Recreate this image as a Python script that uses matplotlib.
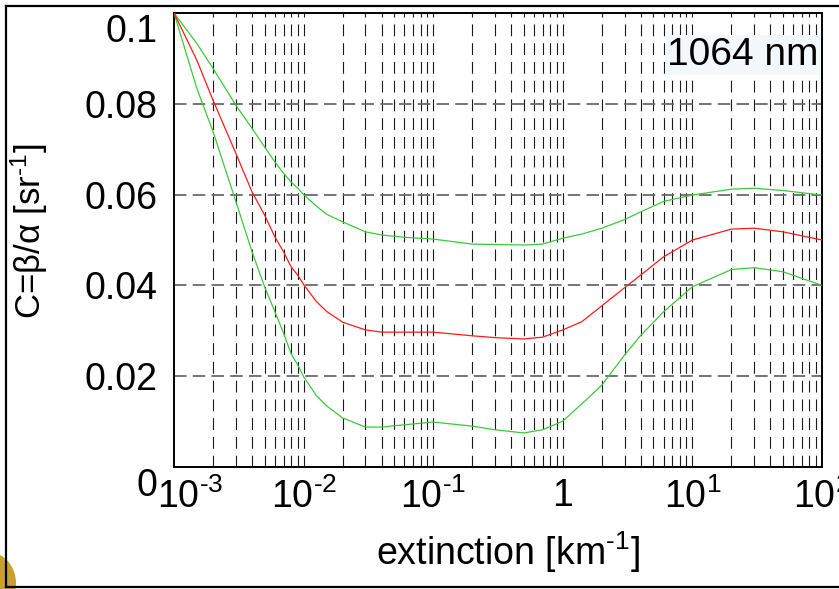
import numpy as np
import matplotlib
matplotlib.use("Agg")
import matplotlib.pyplot as plt
from matplotlib.ticker import FixedLocator, NullFormatter
from matplotlib.transforms import ScaledTranslation
from matplotlib.lines import Line2D
from matplotlib.patches import Ellipse

plt.rcParams['font.family'] = ['Liberation Sans', 'DejaVu Sans']
plt.rcParams['mathtext.fontset'] = 'custom'
plt.rcParams['mathtext.rm'] = 'Liberation Sans'
plt.rcParams['mathtext.it'] = 'Liberation Sans:italic'
plt.rcParams['mathtext.default'] = 'regular'
plt.rcParams['lines.scale_dashes'] = False

# extinction [km^-1] and backscatter/extinction ratio C
ext = [0.001, 0.0015, 0.002, 0.003, 0.004, 0.005, 0.006, 0.007, 0.008, 0.009, 0.01,
       0.0125, 0.015, 0.02, 0.03, 0.04, 0.06, 0.1, 0.2, 0.3, 0.5, 0.7, 1, 1.4, 2,
       3, 4, 6, 10, 20, 30, 50, 100]
c_mean = [0.1, 0.0896, 0.0808, 0.0691, 0.0606, 0.0555, 0.0507, 0.0474, 0.0441, 0.0423, 0.0402,
          0.0365, 0.0343, 0.0319, 0.0302, 0.0297, 0.0297, 0.0297, 0.0289, 0.0285, 0.0282,
          0.0286, 0.0302, 0.032, 0.0355, 0.0395, 0.0423, 0.0463, 0.050, 0.0524, 0.0526,
          0.0518, 0.050]
c_upper = [0.1, 0.0933, 0.0878, 0.0797, 0.0746, 0.0705, 0.0672, 0.0647, 0.0628, 0.0614, 0.0600,
           0.0575, 0.0557, 0.054, 0.0518, 0.0511, 0.0506, 0.0502, 0.0491, 0.049, 0.0489,
           0.0491, 0.0504, 0.0513, 0.0526, 0.0545, 0.0562, 0.0585, 0.0599, 0.0612, 0.0614,
           0.0609, 0.0599]
c_lower = [0.1, 0.0834, 0.0739, 0.0585, 0.0474, 0.0397, 0.0342, 0.0295, 0.025, 0.0225, 0.0199,
           0.0158, 0.0135, 0.0108, 0.0088, 0.0088, 0.0093, 0.0099, 0.009, 0.0082, 0.0075,
           0.0082, 0.0101, 0.0139, 0.018, 0.0247, 0.029, 0.0342, 0.0397, 0.0435, 0.0439,
           0.043, 0.040]

xticks = [1e-3, 1e-2, 1e-1, 1, 10, 100]
xticklabels = [r'$10^{\text{-}3}$', r'$10^{\text{-}2}$', r'$10^{\text{-}1}$', '1',
               '$10^{1}$', '$10^{2}$']
yticks = [0, 0.02, 0.04, 0.06, 0.08, 0.1]
yticklabels = ['0', '0.02', '0.04', '0.06', '0.08', '0.1']

fig = plt.figure(figsize=(8.39, 5.89), dpi=100)
ax = fig.add_axes([174 / 839, 1 - 467 / 589, 648 / 839, 454 / 589])

ax.set_xscale('log')
ax.set_xlim(1e-3, 100)
ax.set_ylim(0, 0.1)

# dashed grid: every decade subdivision vertically, major y ticks horizontally
minors = [m * 10.0 ** e for e in range(-3, 2) for m in range(2, 10)]
for xv in minors + xticks[1:-1]:
    ax.axvline(xv, color='#1a1a1a', lw=0.8, dashes=(8.5, 5), zorder=1)
for yv in yticks[1:-1]:
    ax.axhline(yv, color='#6a6a6a', lw=1.3, dashes=(9, 4.5), zorder=1)

ax.plot(ext, c_upper, color='#3cc83c', lw=0.9, zorder=3)
ax.plot(ext, c_lower, color='#3cc83c', lw=0.9, zorder=3)
ax.plot(ext, c_mean, color='#ff1a1a', lw=0.9, zorder=3)

ax.xaxis.set_major_locator(FixedLocator(xticks))
ax.xaxis.set_minor_locator(FixedLocator(minors))
ax.xaxis.set_minor_formatter(NullFormatter())
ax.set_xticklabels(xticklabels)
ax.set_yticks(yticks)
ax.set_yticklabels(yticklabels)
ax.tick_params(which='both', length=0, labelsize=27)
ax.tick_params(axis='x', pad=8)
ax.tick_params(axis='y', pad=12)

for sp in ax.spines.values():
    sp.set_linewidth(1.4)

# nudge end labels the way the original layout had them
ylabs = ax.get_yticklabels()
for lab in (ylabs[0], ylabs[-1]):
    lab.set_transform(lab.get_transform() + ScaledTranslation(0, -0.15, fig.dpi_scale_trans))
xlabs = ax.get_xticklabels()
xlabs[0].set_transform(xlabs[0].get_transform() + ScaledTranslation(0.16, 0, fig.dpi_scale_trans))

ax.set_xlabel(r'extinction [km$^{\text{-}1}$]', fontsize=27, labelpad=10)
ax.xaxis.label.set_x(0.515)
ax.set_ylabel(r'C=β/α [sr$^{\text{-}1}$]', fontsize=25)
ax.yaxis.set_label_coords(-0.191, 0.52)

ax.text(0.877, 0.907, '1064 nm', transform=ax.transAxes, fontsize=28,
        ha='center', va='center', zorder=5,
        bbox=dict(boxstyle='square,pad=0.05', facecolor='#f3f9fb', edgecolor='none'))

# outer frame
fw, fh = 839.0, 589.0
fig.add_artist(Ellipse((-12 / fw, 1 - 583 / fh), 56 / fw, 62 / fh, transform=fig.transFigure,
                       facecolor='#c9a02a', edgecolor='none'))
fig.add_artist(Line2D([6 / fw, 6 / fw], [1 - 6 / fh, 1 - 587 / fh], color='black', lw=1.6,
                      transform=fig.transFigure))
fig.add_artist(Line2D([6 / fw, 1], [1 - 6 / fh, 1 - 6 / fh], color='black', lw=1.6,
                      transform=fig.transFigure))
fig.add_artist(Line2D([6 / fw, 1], [1 - 587 / fh, 1 - 587 / fh], color='black', lw=1.6,
                      transform=fig.transFigure))

fig.savefig('out.png', dpi=100)
